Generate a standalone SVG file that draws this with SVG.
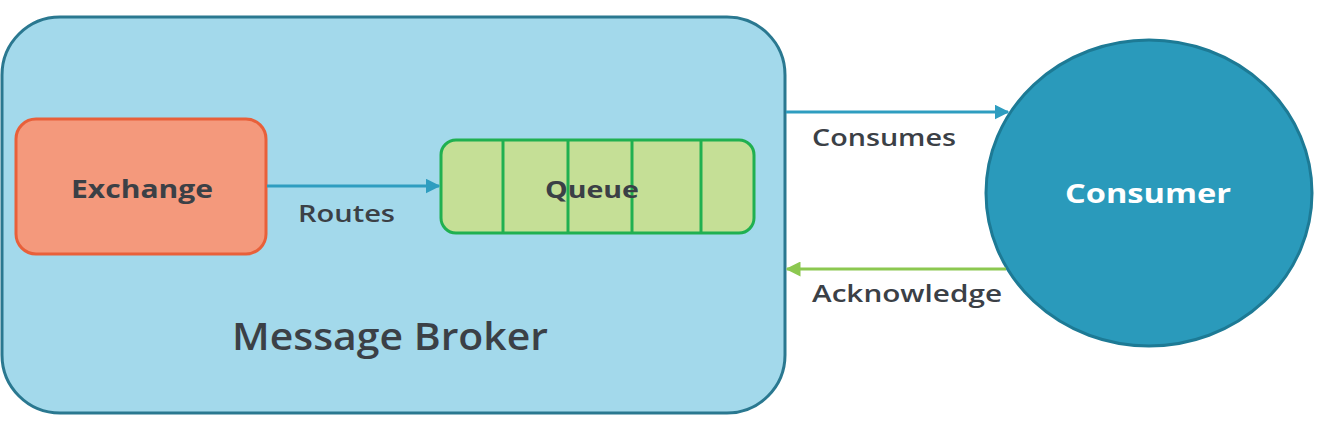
<svg xmlns="http://www.w3.org/2000/svg" width="1332" height="426" viewBox="0 0 1332 426">
<style>
.t{font-family:"Open Sans","Liberation Sans",sans-serif;fill:#3b4046;font-weight:600}
.b{font-weight:bold}
.conn{fill:none;stroke-width:3}
</style>
<defs>
<marker id="ab" viewBox="0 0 10 10" refX="9" refY="5" markerWidth="5" markerHeight="5" orient="auto" markerUnits="strokeWidth"><path d="M0,0L10,5L0,10z" fill="#2e9dc0"/></marker>
<marker id="ag" viewBox="0 0 10 10" refX="9" refY="5" markerWidth="5" markerHeight="5" orient="auto" markerUnits="strokeWidth"><path d="M0,0L10,5L0,10z" fill="#8cc850"/></marker>
</defs>
<rect width="1332" height="426" fill="#ffffff"/>
<g id="broker">
<rect x="2" y="17" width="783" height="396" rx="58" fill="#a3d9eb" stroke="#2a7890" stroke-width="3"/>
<text class="t" x="232" y="350" font-size="37" font-weight="500" textLength="316" lengthAdjust="spacingAndGlyphs">Message Broker</text>
</g>
<g id="exchange">
<rect x="16" y="119" width="250" height="135" rx="20" fill="#f4997c" stroke="#e8603a" stroke-width="3"/>
<text class="t b" x="142" y="198" font-size="25" text-anchor="middle" textLength="142" lengthAdjust="spacingAndGlyphs">Exchange</text>
</g>
<g id="queue">
<rect x="441" y="140" width="313" height="93" rx="15" fill="#c5df96" stroke="#20b050" stroke-width="3"/>
<g stroke="#20b050" stroke-width="3">
<line x1="503" y1="140" x2="503" y2="233"/>
<line x1="568" y1="140" x2="568" y2="233"/>
<line x1="632" y1="140" x2="632" y2="233"/>
<line x1="701" y1="140" x2="701" y2="233"/>
</g>
<text class="t b" x="592" y="198" font-size="24" text-anchor="middle" textLength="94" lengthAdjust="spacingAndGlyphs">Queue</text>
</g>
<g id="consumer">
<ellipse cx="1149" cy="193" rx="163" ry="153" fill="#2a9abb" stroke="#1d7a95" stroke-width="3"/>
<text x="1148" y="203" font-size="27" text-anchor="middle" font-family="Open Sans, Liberation Sans, sans-serif" font-weight="bold" fill="#ffffff" textLength="166" lengthAdjust="spacingAndGlyphs">Consumer</text>
</g>
<g id="connectors">
<line class="conn" x1="267" y1="186" x2="439" y2="186" stroke="#2e9dc0" marker-end="url(#ab)"/>
<line class="conn" x1="786" y1="112" x2="1008" y2="112" stroke="#2e9dc0" marker-end="url(#ab)"/>
<line class="conn" x1="1006" y1="269" x2="787" y2="269" stroke="#8cc850" marker-end="url(#ag)"/>
<text class="t" x="298" y="222" font-size="23" textLength="97" lengthAdjust="spacingAndGlyphs">Routes</text>
<text class="t" x="812" y="146" font-size="23" textLength="144" lengthAdjust="spacingAndGlyphs">Consumes</text>
<text class="t" x="812" y="302" font-size="23" textLength="190" lengthAdjust="spacingAndGlyphs">Acknowledge</text>
</g>
</svg>
